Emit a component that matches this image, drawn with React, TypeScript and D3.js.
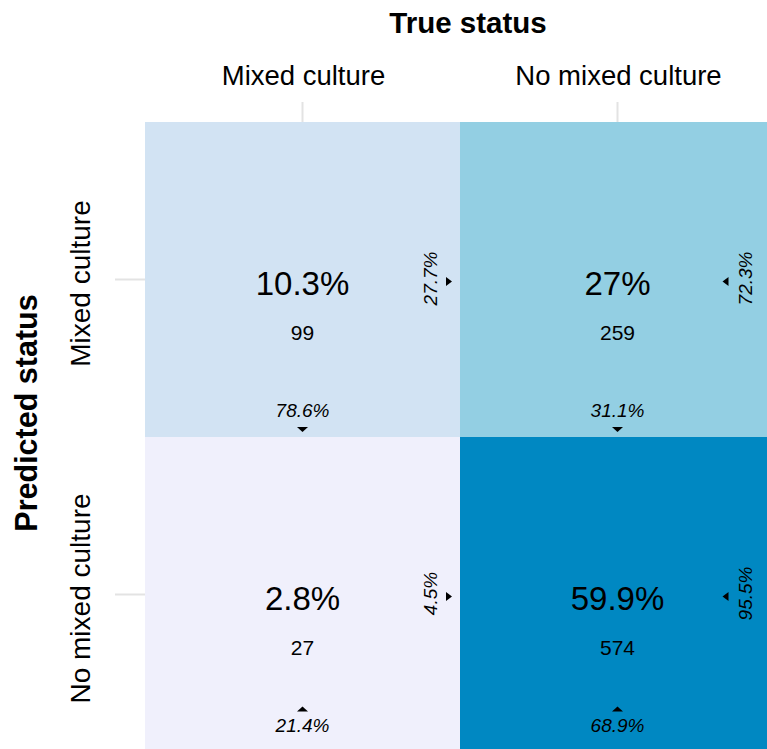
import React from "react";
import * as d3 from "d3";

const trueLabels = ["Mixed culture", "No mixed culture"];
const predLabels = ["Mixed culture", "No mixed culture"];
// counts[row = predicted][col = true]
const counts = [
  [99, 259],
  [27, 574],
];
const fillColors = [
  ["#d2e3f3", "#93cfe3"],
  ["#f0f0fc", "#0088c2"],
];

const W = 767;
const H = 749;
const FONT = "'Liberation Sans', Arial, Helvetica, sans-serif";

const fmtPct = (v: number) => {
  const s = (v * 100).toFixed(1);
  return (s.endsWith(".0") ? s.slice(0, -2) : s) + "%";
};

export default function App() {
  const x = d3.scaleBand<string>().domain(trueLabels).range([145, 775]);
  const y = d3.scaleBand<string>().domain(predLabels).range([122, 752]);
  const bw = x.bandwidth();
  const bh = y.bandwidth();

  const total = d3.sum(counts.flat());
  const rowSums = counts.map((r) => d3.sum(r));
  const colSums = trueLabels.map((_, j) => d3.sum(counts, (r) => r[j]));

  const tri = (cx: number, cy: number, dir: "up" | "down" | "left" | "right") => {
    const s = 5.5;
    const h = 5;
    let pts: [number, number][];
    if (dir === "down") pts = [[cx - s, cy - h / 2], [cx + s, cy - h / 2], [cx, cy + h / 2]];
    else if (dir === "up") pts = [[cx - s, cy + h / 2], [cx + s, cy + h / 2], [cx, cy - h / 2]];
    else if (dir === "right") pts = [[cx - h / 2, cy - s + 1], [cx - h / 2, cy + s - 1], [cx + h / 2 + 1, cy]];
    else pts = [[cx + h / 2, cy - s + 1], [cx + h / 2, cy + s - 1], [cx - h / 2 - 1, cy]];
    return <path d={d3.line()(pts)! + "Z"} fill="#000" />;
  };

  return (
    <svg
      width={W}
      height={H}
      style={{ position: "absolute", left: 0, top: 0, background: "#fff" }}
      fontFamily={FONT}
    >
      {/* axis ticks */}
      {trueLabels.map((t) => {
        const cx = x(t)! + bw / 2;
        return <line key={"xt" + t} x1={cx} x2={cx} y1={102} y2={122} stroke="#e3e3e3" strokeWidth={2} />;
      })}
      {predLabels.map((p) => {
        const cy = y(p)! + bh / 2;
        return <line key={"yt" + p} x1={115} x2={145} y1={cy} y2={cy} stroke="#e3e3e3" strokeWidth={2} />;
      })}

      {/* tiles */}
      {predLabels.map((p, i) =>
        trueLabels.map((t, j) => (
          <rect key={`r${i}${j}`} x={x(t)} y={y(p)} width={bw} height={bh} fill={fillColors[i][j]} />
        ))
      )}

      {/* cell texts */}
      {predLabels.map((p, i) =>
        trueLabels.map((t, j) => {
          const cx = x(t)! + bw / 2;
          const cy = y(p)! + bh / 2;
          const x0 = x(t)!;
          const y0 = y(p)!;
          const rowTextX = x0 + bw - 23;
          const rowTriX = j === 0 ? x0 + bw - 11.5 : x0 + bw - 49;
          const colTextY = y0 + bh - 20;
          const colTriY = i === 0 ? y0 + bh - 7.5 : y0 + bh - 43;
          return (
            <g key={`t${i}${j}`}>
              <text x={cx} y={cy + 15} textAnchor="middle" fontSize={33} fill="#000">
                {fmtPct(counts[i][j] / total)}
              </text>
              <text x={cx} y={cy + 60} textAnchor="middle" fontSize={21} fill="#000">
                {counts[i][j]}
              </text>
              <text
                x={cx}
                y={colTextY}
                textAnchor="middle"
                fontSize={19}
                fontStyle="italic"
                fill="#000"
              >
                {fmtPct(counts[i][j] / colSums[j])}
              </text>
              {tri(cx, colTriY, i === 0 ? "down" : "up")}
              <text
                transform={`translate(${rowTextX},${cy - 1}) rotate(-90)`}
                textAnchor="middle"
                fontSize={19}
                fontStyle="italic"
                fill="#000"
              >
                {fmtPct(counts[i][j] / rowSums[i])}
              </text>
              {tri(rowTriX, cy + 2, j === 0 ? "right" : "left")}
            </g>
          );
        })
      )}

      {/* axis labels */}
      {trueLabels.map((t) => (
        <text key={"xl" + t} x={x(t)! + bw / 2 + 1} y={85} textAnchor="middle" fontSize={27.5} fill="#000">
          {t}
        </text>
      ))}
      {predLabels.map((p) => (
        <text
          key={"yl" + p}
          transform={`translate(${90},${y(p)! + bh / 2 + 4}) rotate(-90)`}
          textAnchor="middle"
          fontSize={28}
          fill="#000"
        >
          {p}
        </text>
      ))}

      {/* titles */}
      <text x={468} y={33} textAnchor="middle" fontSize={29.5} fontWeight="bold" fill="#000">
        True status
      </text>
      <text
        transform={`translate(37,413) rotate(-90)`}
        textAnchor="middle"
        fontSize={30.5}
        fontWeight="bold"
        fill="#000"
      >
        Predicted status
      </text>
    </svg>
  );
}
